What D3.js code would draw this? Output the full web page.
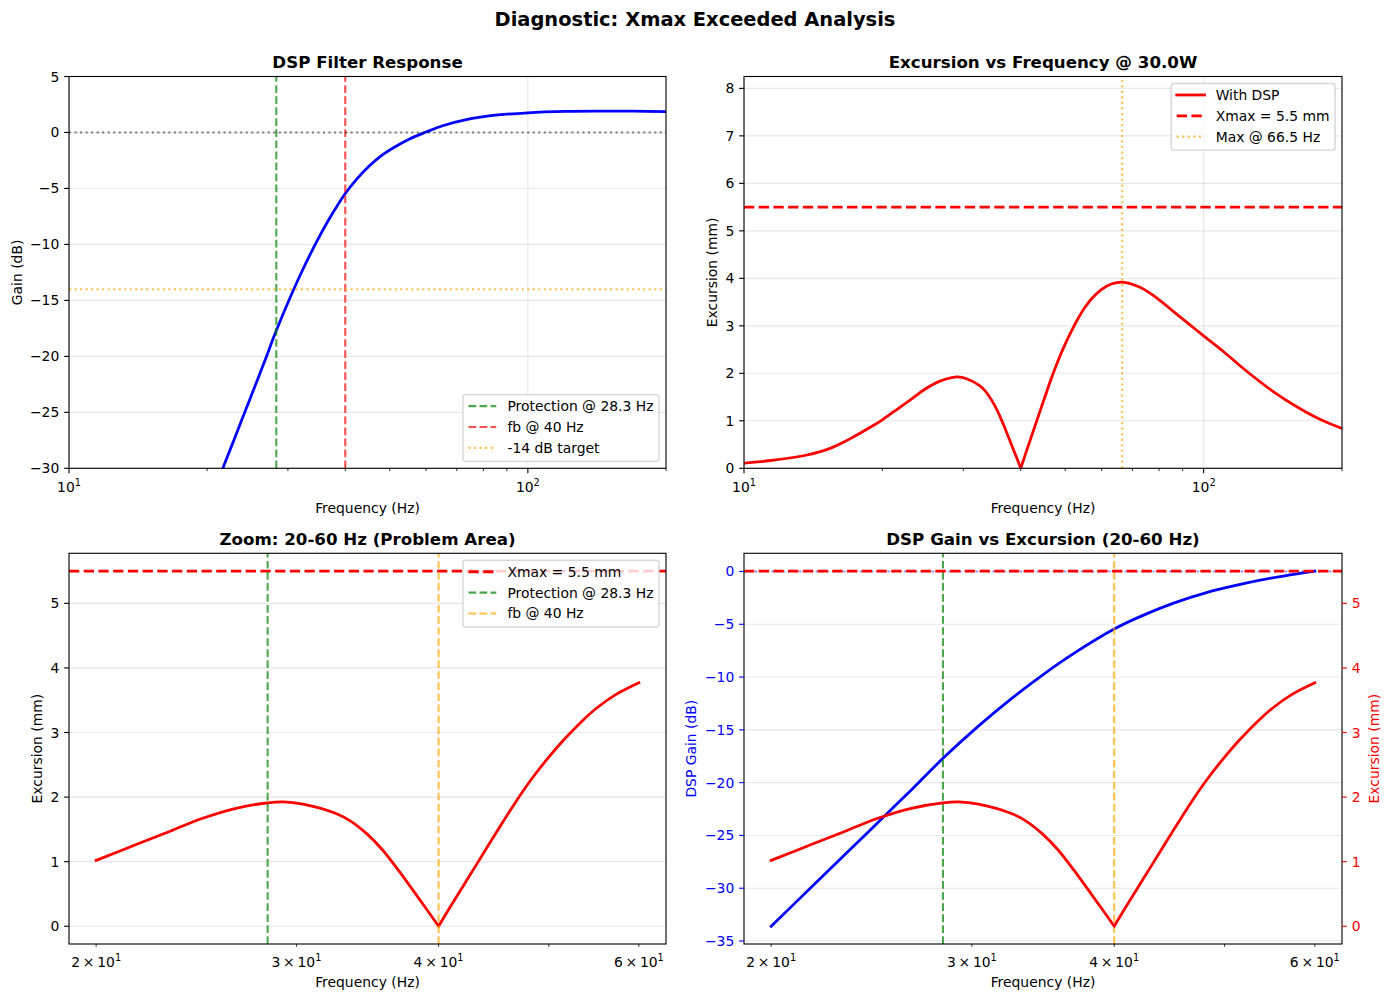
<!DOCTYPE html>
<html>
<head>
<meta charset="utf-8">
<script src="https://cdn.jsdelivr.net/npm/d3@7/dist/d3.min.js"></script>
<style>
html,body{margin:0;padding:0;background:#fff;}
svg text{font-family:"DejaVu Sans","Liberation Sans",sans-serif;}
</style>
</head>
<body>
<svg id="chart" width="1390" height="1000"></svg>
<script>
// ---------------- data ----------------
const gainFreqHz = [20,21.8,23.3,24.7,26.6,28.3,30.4,32.5,34.7,36.9,40,42.1,45.1,48.2,51.5,55.1,60,65.2,73.4,83.9,100,121,143,170,200];
const gainDb     = [-33.6,-29.67,-26.64,-23.98,-20.6,-17.7,-14.65,-12.04,-9.71,-7.73,-5.45,-4.3,-3.0,-2.0,-1.25,-0.6,0.04,0.6,1.15,1.52,1.76,1.88,1.91,1.91,1.86];
const excFreqHz  = [10,11.6,13.7,15.4,17,19.1,20,21.8,23.3,24.7,26.6,28.3,29.2,30.4,32.5,33.5,34.6,35.7,36.9,38.4,39.2,40,40.8,42.1,43,45.1,46.7,48.2,50,51.5,53.5,55.1,57.3,60,63,66.5,72.7,79.5,86,93.4,100,110.4,120,130.5,142,154,168,182,200];
const excMm      = [0.11,0.17,0.28,0.42,0.62,0.90,1.02,1.28,1.48,1.66,1.83,1.91,1.925,1.89,1.745,1.625,1.43,1.185,0.86,0.44,0.22,0.0,0.25,0.64,0.90,1.49,1.91,2.26,2.62,2.88,3.18,3.38,3.59,3.77,3.88,3.92,3.81,3.57,3.30,3.02,2.79,2.46,2.16,1.875,1.61,1.385,1.17,1.00,0.84];
const protectionHz = 28.3;
const fbHz = 40;
const targetDb = -14;
const xmaxMm = 5.5;
const maxExcHz = 66.5;
const powerW = "30.0";
const zoomRange = [20, 60];
const topRange = [10, 200];
const topMajorTicks = [10, 100];
const topMinorTicks = [20,30,40,50,60,70,80,90,200];
const zoomTicks = [20,30,40,50,60];
const zoomTickLabels = [20,30,40,60];
const gainTicksTop = [-30,-25,-20,-15,-10,-5,0,5];
const gainTicksZoom = [-35,-30,-25,-20,-15,-10,-5,0];
const excTicksTop = [0,1,2,3,4,5,6,7,8];
const excTicksZoom = [0,1,2,3,4,5];

// ---------------- helpers ----------------
const svg = d3.select('#chart');
const FS = 13.9, TFS = 16.67, SFS = 19.44;
const px = pt => pt * 100 / 72;
const fmt = v => (v < 0 ? '\u2212' + Math.abs(v) : '' + v);
function dash(ls, lw) {
  if (ls === 'dashed') return `${px(3.7*lw)},${px(1.6*lw)}`;
  if (ls === 'dotted') return `${px(1*lw)},${px(1.65*lw)}`;
  return null;
}
function style(sel, s) {
  const lw = s.lw || 1.5;
  sel.attr('fill', 'none').attr('stroke', s.color).attr('stroke-width', px(lw))
     .attr('stroke-linejoin', 'round')
     .attr('stroke-linecap', (!s.ls || s.ls === 'solid') ? 'square' : 'butt');
  if (s.alpha != null) sel.attr('stroke-opacity', s.alpha);
  const d = dash(s.ls, lw);
  if (d) sel.attr('stroke-dasharray', d);
  return sel;
}
function mkAxes(l, t, r, b) { return {x: l, y: t, r: r, b: b, w: r - l, h: b - t}; }
let clipN = 0;
function clipFor(ax) {
  const id = 'clip' + (clipN++);
  svg.append('clipPath').attr('id', id).append('rect')
     .attr('x', ax.x).attr('y', ax.y).attr('width', ax.w).attr('height', ax.h);
  return `url(#${id})`;
}
function logPad(lo, hi) {
  const m = 0.05 * Math.log10(hi / lo);
  return [lo / Math.pow(10, m), hi * Math.pow(10, m)];
}
function linPad(lo, hi) { const m = 0.05 * (hi - lo); return [lo - m, hi + m]; }

function yGrid(g, ax, y, ticks) {
  ticks.forEach(t => g.append('line').attr('x1', ax.x).attr('x2', ax.r)
    .attr('y1', y(t)).attr('y2', y(t)).attr('stroke', '#b0b0b0').attr('stroke-opacity', 0.3).attr('stroke-width', px(0.8)));
}
function xGrid(g, ax, x, ticks) {
  ticks.forEach(t => g.append('line').attr('y1', ax.y).attr('y2', ax.b)
    .attr('x1', x(t)).attr('x2', x(t)).attr('stroke', '#b0b0b0').attr('stroke-opacity', 0.3).attr('stroke-width', px(0.8)));
}
function hline(g, ax, y, v, s) {
  style(g.append('line').attr('x1', ax.x).attr('x2', ax.r).attr('y1', y(v)).attr('y2', y(v)), s);
}
function vline(g, ax, x, v, s) {
  style(g.append('line').attr('x1', x(v)).attr('x2', x(v)).attr('y1', ax.b).attr('y2', ax.y), s);
}
// smooth path; split at the sharp minimum (V-shaped null) so the cusp stays pointed
function seriesPath(xs, ys, x, y, cuspIndex) {
  const pts = xs.map((f, i) => [x(f), y(ys[i])]);
  const line = d3.line().curve(d3.curveCatmullRom.alpha(0.5));
  if (cuspIndex == null || cuspIndex <= 0 || cuspIndex >= pts.length - 1) return line(pts);
  const a = line(pts.slice(0, cuspIndex + 1));
  const b = line(pts.slice(cuspIndex)).replace(/^M/, 'L');
  return a + b;
}
function drawSeries(g, xs, ys, x, y, s, cusp) {
  style(g.append('path').attr('d', seriesPath(xs, ys, x, y, cusp)), s);
}
function spines(g, ax) {
  g.append('rect').attr('x', ax.x).attr('y', ax.y).attr('width', ax.w).attr('height', ax.h)
   .attr('fill', 'none').attr('stroke', '#000').attr('stroke-width', px(0.8));
}
function yTicks(g, ax, y, ticks, side, color) {
  const len = px(3.5), pad = px(3.5);
  ticks.forEach(t => {
    const yy = y(t);
    if (side === 'left') {
      g.append('line').attr('x1', ax.x).attr('x2', ax.x - len).attr('y1', yy).attr('y2', yy)
       .attr('stroke', color || '#000').attr('stroke-width', px(0.8));
      g.append('text').attr('x', ax.x - len - pad).attr('y', yy).attr('dy', '0.36em')
       .attr('text-anchor', 'end').attr('font-size', FS).attr('fill', color || '#000').text(fmt(t));
    } else {
      g.append('line').attr('x1', ax.r).attr('x2', ax.r + len).attr('y1', yy).attr('y2', yy)
       .attr('stroke', color || '#000').attr('stroke-width', px(0.8));
      g.append('text').attr('x', ax.r + len + pad).attr('y', yy).attr('dy', '0.36em')
       .attr('text-anchor', 'start').attr('font-size', FS).attr('fill', color || '#000').text(fmt(t));
    }
  });
}
function supLabel(g, x, y, base, exp) {
  const t = g.append('text').attr('x', x).attr('y', y).attr('text-anchor', 'middle').attr('font-size', FS);
  t.append('tspan').text(base);
  t.append('tspan').attr('dy', -5.8).attr('font-size', FS * 0.7).text(exp);
}
function xTicksTop(g, ax, x) {
  topMajorTicks.forEach(t => {
    g.append('line').attr('x1', x(t)).attr('x2', x(t)).attr('y1', ax.b).attr('y2', ax.b + px(3.5))
     .attr('stroke', '#000').attr('stroke-width', px(0.8));
    supLabel(g, x(t), ax.b + 23.7, '10', String(Math.round(Math.log10(t))));
  });
  topMinorTicks.forEach(t => {
    g.append('line').attr('x1', x(t)).attr('x2', x(t)).attr('y1', ax.b).attr('y2', ax.b + px(2))
     .attr('stroke', '#000').attr('stroke-width', px(0.6));
  });
}
function xTicksZoom(g, ax, x) {
  zoomTicks.forEach(t => {
    g.append('line').attr('x1', x(t)).attr('x2', x(t)).attr('y1', ax.b).attr('y2', ax.b + px(2))
     .attr('stroke', '#000').attr('stroke-width', px(0.6));
  });
  zoomTickLabels.forEach(t => supLabel(g, x(t), ax.b + 22.5, `${t / 10}\u2009\u00d7\u200910`, '1'));
}
function title(ax, txt) {
  svg.append('text').attr('x', ax.x + ax.w / 2).attr('y', ax.y - 8.8).attr('text-anchor', 'middle')
     .attr('font-size', TFS).attr('font-weight', 'bold').text(txt);
}
function xLabel(ax, off) {
  svg.append('text').attr('x', ax.x + ax.w / 2).attr('y', ax.b + off).attr('text-anchor', 'middle')
     .attr('font-size', FS).text('Frequency (Hz)');
}
function yLabel(ax, bx, txt, color) {
  const cy = ax.y + ax.h / 2;
  svg.append('text').attr('transform', `translate(${bx},${cy}) rotate(-90)`).attr('text-anchor', 'middle')
     .attr('font-size', FS).attr('fill', color || '#000').text(txt);
}
function legend(ax, entries, loc) {
  const g = svg.append('g');
  const pad = 0.4 * FS, hl = 2 * FS, htp = 0.8 * FS, ls = 0.5 * FS, rowH = FS;
  let maxW = 0;
  const tmp = g.append('g');
  entries.forEach(e => {
    const t = tmp.append('text').attr('font-size', FS).text(e.label);
    maxW = Math.max(maxW, t.node().getComputedTextLength());
  });
  tmp.remove();
  const bw = pad * 2 + hl + htp + maxW;
  const bh = pad * 2 + entries.length * rowH + (entries.length - 1) * ls;
  const bx = ax.r - 0.5 * FS - bw;
  const by = loc === 'upper right' ? ax.y + 0.5 * FS : ax.b - 0.5 * FS - bh;
  g.append('rect').attr('x', bx).attr('y', by).attr('width', bw).attr('height', bh)
   .attr('rx', 0.2 * FS).attr('ry', 0.2 * FS)
   .attr('fill', '#fff').attr('fill-opacity', 0.8).attr('stroke', '#cccccc').attr('stroke-opacity', 0.8)
   .attr('stroke-width', px(1));
  entries.forEach((e, i) => {
    const cy = by + pad + i * (rowH + ls) + rowH / 2 - 1;
    style(g.append('line').attr('x1', bx + pad).attr('x2', bx + pad + hl).attr('y1', cy).attr('y2', cy), e);
    g.append('text').attr('x', bx + pad + hl + htp).attr('y', cy).attr('dy', '0.36em')
     .attr('font-size', FS).text(e.label);
  });
}

// ---------------- layout ----------------
const AX1 = mkAxes(69, 76.5, 666, 468.3);
const AX2 = mkAxes(744, 76.5, 1342, 468.3);
const AX3 = mkAxes(69, 553.3, 666, 944);
const AX4 = mkAxes(744, 553.3, 1342, 944);

svg.append('text').attr('x', 695).attr('y', 26).attr('text-anchor', 'middle')
   .attr('font-size', SFS).attr('font-weight', 'bold').text('Diagnostic: Xmax Exceeded Analysis');

const excCusp = excMm.indexOf(d3.min(excMm));
const inZoom = f => f >= zoomRange[0] && f <= zoomRange[1];
const zGainF = gainFreqHz.filter(inZoom), zGainV = gainDb.filter((v, i) => inZoom(gainFreqHz[i]));
const zExcF = excFreqHz.filter(inZoom), zExcV = excMm.filter((v, i) => inZoom(excFreqHz[i]));
const zExcCusp = zExcV.indexOf(d3.min(zExcV));

const protLabel = `Protection @ ${protectionHz} Hz`;
const fbLabel = `fb @ ${fbHz} Hz`;
const xmaxLabel = `Xmax = ${xmaxMm} mm`;

// ---------- panel 1: DSP filter response ----------
{
  const ax = AX1;
  const x = d3.scaleLog().domain(topRange).range([ax.x, ax.r]);
  const y = d3.scaleLinear().domain([-30, 5]).range([ax.b, ax.y]);
  const g = svg.append('g');
  const gc = g.append('g').attr('clip-path', clipFor(ax));
  yGrid(gc, ax, y, gainTicksTop);
  xGrid(gc, ax, x, topMajorTicks);
  drawSeries(gc, gainFreqHz, gainDb, x, y, {color: 'blue', lw: 2});
  vline(gc, ax, x, protectionHz, {color: 'green', ls: 'dashed', lw: 1.5, alpha: 0.7});
  vline(gc, ax, x, fbHz, {color: 'red', ls: 'dashed', lw: 1.5, alpha: 0.7});
  hline(gc, ax, y, 0, {color: 'black', ls: 'dotted', lw: 1.5, alpha: 0.5});
  hline(gc, ax, y, targetDb, {color: 'orange', ls: 'dotted', lw: 1.5, alpha: 0.7});
  spines(g, ax);
  yTicks(g, ax, y, gainTicksTop, 'left');
  xTicksTop(g, ax, x);
  title(ax, 'DSP Filter Response');
  xLabel(ax, 44.7);
  yLabel(ax, 21.5, 'Gain (dB)');
  legend(ax, [
    {label: protLabel, color: 'green', ls: 'dashed', lw: 1.5, alpha: 0.7},
    {label: fbLabel, color: 'red', ls: 'dashed', lw: 1.5, alpha: 0.7},
    {label: `${targetDb} dB target`, color: 'orange', ls: 'dotted', lw: 1.5, alpha: 0.7}
  ], 'lower right');
}

// ---------- panel 2: excursion vs frequency ----------
{
  const ax = AX2;
  const x = d3.scaleLog().domain(topRange).range([ax.x, ax.r]);
  const y = d3.scaleLinear().domain([0, xmaxMm * 1.5]).range([ax.b, ax.y]);
  const g = svg.append('g');
  const gc = g.append('g').attr('clip-path', clipFor(ax));
  yGrid(gc, ax, y, excTicksTop);
  xGrid(gc, ax, x, topMajorTicks);
  drawSeries(gc, excFreqHz, excMm, x, y, {color: 'red', lw: 2}, excCusp);
  hline(gc, ax, y, xmaxMm, {color: 'red', ls: 'dashed', lw: 2});
  vline(gc, ax, x, maxExcHz, {color: 'orange', ls: 'dotted', lw: 1.5, alpha: 0.7});
  spines(g, ax);
  yTicks(g, ax, y, excTicksTop, 'left');
  xTicksTop(g, ax, x);
  title(ax, `Excursion vs Frequency @ ${powerW}W`);
  xLabel(ax, 44.7);
  yLabel(ax, 716.6, 'Excursion (mm)');
  legend(ax, [
    {label: 'With DSP', color: 'red', lw: 2},
    {label: xmaxLabel, color: 'red', ls: 'dashed', lw: 2},
    {label: `Max @ ${maxExcHz} Hz`, color: 'orange', ls: 'dotted', lw: 1.5, alpha: 0.7}
  ], 'upper right');
}

// ---------- panel 3: zoom 20-60 Hz ----------
{
  const ax = AX3;
  const x = d3.scaleLog().domain(logPad(zoomRange[0], zoomRange[1])).range([ax.x, ax.r]);
  const y = d3.scaleLinear().domain(linPad(Math.min(0, d3.min(zExcV)), Math.max(xmaxMm, d3.max(zExcV)))).range([ax.b, ax.y]);
  const g = svg.append('g');
  const gc = g.append('g').attr('clip-path', clipFor(ax));
  yGrid(gc, ax, y, excTicksZoom);
  drawSeries(gc, zExcF, zExcV, x, y, {color: 'red', lw: 2}, zExcCusp);
  hline(gc, ax, y, xmaxMm, {color: 'red', ls: 'dashed', lw: 2});
  vline(gc, ax, x, protectionHz, {color: 'green', ls: 'dashed', lw: 1.5, alpha: 0.7});
  vline(gc, ax, x, fbHz, {color: 'orange', ls: 'dashed', lw: 1.5, alpha: 0.7});
  spines(g, ax);
  yTicks(g, ax, y, excTicksZoom, 'left');
  xTicksZoom(g, ax, x);
  title(ax, 'Zoom: 20-60 Hz (Problem Area)');
  xLabel(ax, 42.7);
  yLabel(ax, 41.6, 'Excursion (mm)');
  legend(ax, [
    {label: xmaxLabel, color: 'red', ls: 'dashed', lw: 2},
    {label: protLabel, color: 'green', ls: 'dashed', lw: 1.5, alpha: 0.7},
    {label: fbLabel, color: 'orange', ls: 'dashed', lw: 1.5, alpha: 0.7}
  ], 'upper right');
}

// ---------- panel 4: DSP gain vs excursion ----------
{
  const ax = AX4;
  const x = d3.scaleLog().domain(logPad(zoomRange[0], zoomRange[1])).range([ax.x, ax.r]);
  const yL = d3.scaleLinear().domain(linPad(d3.min(zGainV), Math.max(0, d3.max(zGainV)))).range([ax.b, ax.y]);
  const yR = d3.scaleLinear().domain(linPad(Math.min(0, d3.min(zExcV)), Math.max(xmaxMm, d3.max(zExcV)))).range([ax.b, ax.y]);
  const g = svg.append('g');
  const gc = g.append('g').attr('clip-path', clipFor(ax));
  yGrid(gc, ax, yL, gainTicksZoom);
  drawSeries(gc, zGainF, zGainV, x, yL, {color: 'blue', lw: 2});
  hline(gc, ax, yL, 0, {color: 'blue', ls: 'dotted', lw: 1.5, alpha: 0.4});
  vline(gc, ax, x, protectionHz, {color: 'green', ls: 'dashed', lw: 1.5, alpha: 0.7});
  vline(gc, ax, x, fbHz, {color: 'orange', ls: 'dashed', lw: 1.5, alpha: 0.7});
  drawSeries(gc, zExcF, zExcV, x, yR, {color: 'red', lw: 2}, zExcCusp);
  hline(gc, ax, yR, xmaxMm, {color: 'red', ls: 'dashed', lw: 2});
  spines(g, ax);
  yTicks(g, ax, yL, gainTicksZoom, 'left', 'blue');
  yTicks(g, ax, yR, excTicksZoom, 'right', 'red');
  xTicksZoom(g, ax, x);
  title(ax, 'DSP Gain vs Excursion (20-60 Hz)');
  xLabel(ax, 42.7);
  yLabel(ax, 696.4, 'DSP Gain (dB)', 'blue');
  yLabel(ax, 1379, 'Excursion (mm)', 'red');
}
</script>
</body>
</html>
